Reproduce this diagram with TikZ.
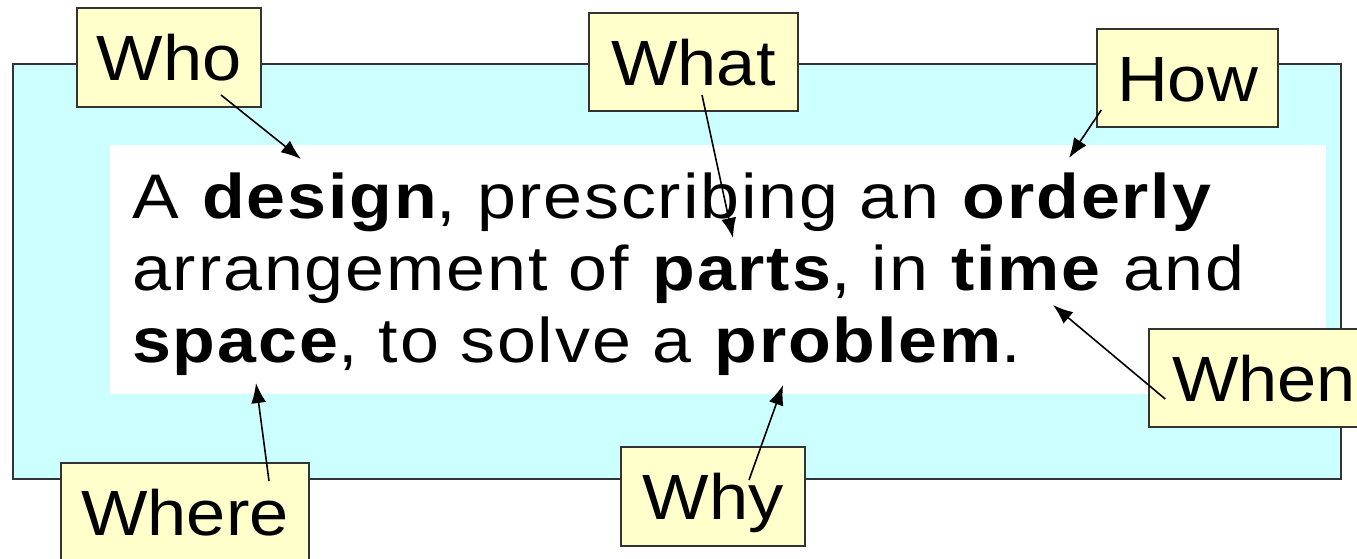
\documentclass[tikz,border=0pt]{standalone}
\usepackage{fontspec}
\setmainfont[FakeStretch=1.1]{Liberation Sans}
\newfontfamily\bodyfont[FakeStretch=1.11,LetterSpace=3]{Liberation Sans}
\usetikzlibrary{arrows.meta,positioning,calc}
\definecolor{framecyan}{HTML}{CCFFFF}
\definecolor{tagyellow}{HTML}{FFFFCC}
\definecolor{edgegray}{HTML}{333333}

\begin{document}
\begin{tikzpicture}[
    x=1pt, y=-1pt,
    >={Latex[length=20pt,width=15pt]},
    tagbox/.style={draw=edgegray, line width=1.5pt, fill=tagyellow, inner sep=0pt,
      font=\fontsize{64}{64}\selectfont, text height=46pt, text depth=0pt},
    bodyline/.style={anchor=base west, inner sep=0pt,
      font=\bodyfont\fontsize{63}{72}\selectfont},
    pointer/.style={->, line width=1.6pt}
  ]
    \clip (0,0) rectangle (1357,558);

    %------------------ Frame and text ------------------%
    \draw[edgegray, line width=1.5pt, fill=framecyan] (13,64) rectangle (1341,479);
    \fill[white] (110,145) rectangle (1326,394);

    \node[bodyline] (line1) at (132,218) {A \textbf{design}, prescribing an \textbf{orderly}};
    \node[bodyline] (line2) at (132,290) {arrangement of \textbf{parts}, in \textbf{time} and};
    \node[bodyline] (line3) at (132,362) {\textbf{space}, to solve a \textbf{problem}.};

    % Targets in the text
    \coordinate (design) at (301,159);
    \coordinate (parts) at (733,238);
    \coordinate (orderly) at (1069,158);
    \coordinate (time) at (1053,305);
    \coordinate (space) at (256,383);
    \coordinate (problem) at (783,385);

    %------------------ Question tags ------------------%
    \node[tagbox, minimum width=184pt, minimum height=99pt] (who) at (169,57.5) {Who};
    \node[tagbox, minimum width=209pt, minimum height=98pt] (what) at (693.5,62) {What};
    \node[tagbox, minimum width=181pt, minimum height=98pt] (how) at (1187.5,78) {How};
    \node[tagbox, minimum width=230pt, minimum height=98pt, text width=230pt, align=left,
      inner xsep=0pt] (when) at (1264,378) {\hspace*{23pt}When};
    \node[tagbox, minimum width=248pt, minimum height=98pt] (where) at (185,512) {Where};
    \node[tagbox, minimum width=184pt, minimum height=99pt] (why) at (713,496.5) {Why};

    % Pointers
    \draw[pointer] ($(who.center)+(52,37.5)$) -- (design);
    \draw[pointer] ($(what.center)+(8.5,33)$) -- (parts);
    \draw[pointer] ($(how.west)+(5,32)$) -- (orderly);
    \draw[pointer] ($(when.west)+(17,21)$) -- (time);
    \draw[pointer] ($(where.center)+(84,-31)$) -- (space);
    \draw[pointer] ($(why.center)+(36,-16.5)$) -- (problem);
\end{tikzpicture}
\end{document}
